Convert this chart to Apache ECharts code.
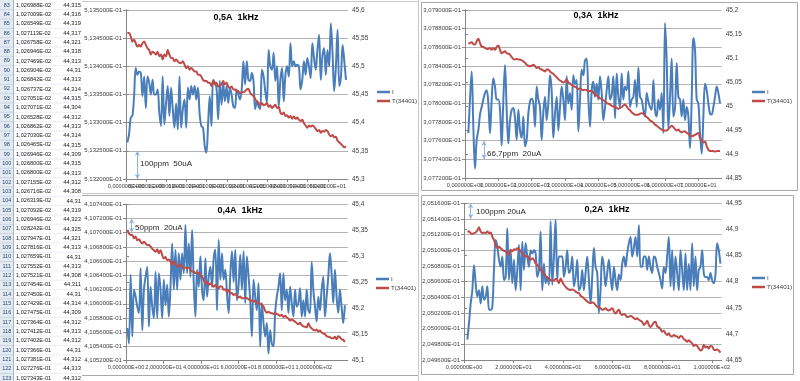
<!DOCTYPE html>
<html><head><meta charset="utf-8">
<script src="https://cdn.jsdelivr.net/npm/echarts@6/dist/echarts.min.js"></script>
<style>html,body{margin:0;padding:0;background:#fff}#c{width:800px;height:381px}</style>
</head><body><div id="c"></div>
<script>
// ---------- spreadsheet column ----------
const rowNums = [83,84,85,86,87,88,89,90,91,92,93,94,95,96,97,98,99,100,101,102,103,104,105,106,107,108,109,110,111,112,113,114,115,116,117,118,119,120,121,122,123];
const colA = ['1,026988E-02','1,027009E-02','1,026549E-02','1,027113E-02','1,026758E-02','1,026946E-02','1,027469E-02','1,026904E-02','1,026842E-02','1,026737E-02','1,027051E-02','1,027071E-02','1,026528E-02','1,026862E-02','1,027030E-02','1,026465E-02','1,026946E-02','1,026800E-02','1,026800E-02','1,027155E-02','1,026716E-02','1,026319E-02','1,027092E-02','1,026946E-02','1,028242E-01','1,027947E-01','1,027816E-01','1,027659E-01','1,027552E-01','1,027521E-01','1,027454E-01','1,027450E-01','1,027429E-01','1,027475E-01','1,027364E-01','1,027412E-01','1,027402E-01','1,027366E-01','1,027381E-01','1,027276E-01','1,027343E-01'];
const colB = ['44,315','44,316','44,319','44,317','44,321','44,318','44,313','44,31','44,313','44,314','44,315','44,304','44,312','44,313','44,314','44,315','44,309','44,315','44,313','44,312','44,308','44,31','44,319','44,323','44,325','44,321','44,313','44,31','44,313','44,308','44,311','44,31','44,314','44,309','44,312','44,313','44,312','44,31','44,312','44,313','44,312'];

// ---------- chart titles / legend / notes ----------
const titles = ['0,5A  1kHz','0,3A  1kHz','0,4A  1kHz','0,2A  1kHz'];
const notes = ['100ppm  50uA','66,7ppm  20uA','50ppm  20uA','100ppm 20uA'];
const seriesNames = ['I','T(34401)'];

// ---------- chart 1 : 0,5A ----------
const c1Start = 0.4, c1Step = 0.5;
const c1I = [0.513265,0.513279,0.513309,0.513312,0.513347,0.513397,0.513385,0.513391,0.513388,0.513347,0.513382,0.513326,0.513382,0.513371,0.513350,0.513376,0.513350,0.513350,0.513359,0.513318,0.513294,0.513382,0.513297,0.513335,0.513365,0.513312,0.513362,0.513324,0.513291,0.513334,0.513288,0.513382,0.513291,0.513324,0.513341,0.513291,0.513362,0.513341,0.513365,0.513350,0.513365,0.513341,0.513362,0.513315,0.513294,0.513291,0.513259,0.513247,0.513297,0.513347,0.513294,0.513376,0.513371,0.513362,0.513306,0.513374,0.513332,0.513371,0.513338,0.513365,0.513335,0.513362,0.513350,0.513329,0.513326,0.513359,0.513350,0.513341,0.513359,0.513409,0.513368,0.513409,0.513376,0.513374,0.513388,0.513374,0.513324,0.513338,0.513329,0.513324,0.513394,0.513382,0.513356,0.513335,0.513429,0.513400,0.513394,0.513424,0.513374,0.513400,0.513329,0.513376,0.513397,0.513338,0.513385,0.513400,0.513382,0.513441,0.513400,0.513409,0.513400,0.513403,0.513400,0.513359,0.513376,0.513409,0.513385,0.513415,0.513400,0.513379,0.513441,0.513415,0.513394,0.513429,0.513456,0.513376,0.513418,0.513432,0.513385,0.513429,0.513400,0.513476,0.513424,0.513356,0.513400,0.513465,0.513365,0.513382,0.513438,0.513409,0.513376];
const c1T = [45.559,45.559,45.553,45.544,45.547,45.541,45.535,45.538,45.535,45.541,45.544,45.538,45.532,45.529,45.521,45.526,45.524,45.521,45.526,45.518,45.521,45.512,45.521,45.518,45.529,45.521,45.515,45.515,45.509,45.512,45.509,45.506,45.506,45.509,45.503,45.497,45.500,45.494,45.497,45.494,45.491,45.491,45.485,45.485,45.482,45.476,45.474,45.474,45.471,45.471,45.465,45.474,45.468,45.471,45.464,45.466,45.468,45.474,45.468,45.471,45.464,45.462,45.464,45.459,45.459,45.456,45.456,45.452,45.454,45.454,45.456,45.459,45.460,45.453,45.450,45.447,45.442,45.438,45.435,45.431,45.435,45.431,45.432,45.435,45.428,45.431,45.426,45.429,45.432,45.426,45.428,45.418,45.415,45.418,45.412,45.413,45.409,45.412,45.407,45.411,45.407,45.409,45.405,45.403,45.405,45.399,45.395,45.391,45.395,45.393,45.395,45.393,45.389,45.385,45.387,45.382,45.385,45.384,45.387,45.385,45.379,45.376,45.378,45.374,45.375,45.368,45.365,45.362,45.359,45.356,45.358];

// ---------- chart 2 : 0,3A ----------
const c2Start = 1.0, c2Step = 0.5;
const c2I = [0.307768,0.307804,0.307834,0.307775,0.307730,0.307761,0.307771,0.307788,0.307796,0.307804,0.307811,0.307814,0.307800,0.307768,0.307804,0.307827,0.307818,0.307804,0.307804,0.307793,0.307755,0.307804,0.307841,0.307793,0.307757,0.307782,0.307793,0.307795,0.307784,0.307761,0.307793,0.307771,0.307763,0.307786,0.307754,0.307761,0.307789,0.307802,0.307805,0.307800,0.307775,0.307818,0.307804,0.307796,0.307761,0.307791,0.307807,0.307782,0.307800,0.307830,0.307813,0.307763,0.307789,0.307807,0.307771,0.307796,0.307818,0.307804,0.307782,0.307829,0.307800,0.307811,0.307793,0.307830,0.307821,0.307825,0.307770,0.307804,0.307836,0.307830,0.307846,0.307848,0.307805,0.307775,0.307814,0.307823,0.307807,0.307821,0.307804,0.307829,0.307811,0.307782,0.307796,0.307814,0.307829,0.307804,0.307809,0.307829,0.307784,0.307832,0.307807,0.307796,0.307832,0.307804,0.307818,0.307814,0.307834,0.307796,0.307804,0.307807,0.307825,0.307796,0.307838,0.307807,0.307804,0.307793,0.307786,0.307811,0.307802,0.307796,0.307793,0.307825,0.307793,0.307786,0.307804,0.307793,0.307811,0.307768,0.307886,0.307846,0.307773,0.307807,0.307848,0.307786,0.307795,0.307843,0.307807,0.307804,0.307786,0.307804,0.307782,0.307796,0.307786,0.307752,0.307804,0.307870,0.307857,0.307804,0.307800,0.307768,0.307746,0.307786,0.307821,0.307814,0.307800,0.307789,0.307788,0.307796,0.307807,0.307818,0.307811,0.307800];
const c2T = [45.130,45.131,45.133,45.129,45.128,45.135,45.140,45.131,45.124,45.123,45.121,45.119,45.119,45.121,45.117,45.121,45.117,45.123,45.126,45.117,45.110,45.112,45.114,45.110,45.109,45.107,45.102,45.098,45.097,45.098,45.097,45.097,45.095,45.093,45.090,45.086,45.084,45.083,45.084,45.086,45.083,45.079,45.081,45.077,45.076,45.074,45.072,45.076,45.076,45.072,45.069,45.067,45.063,45.060,45.056,45.053,45.051,45.049,45.051,45.055,45.049,45.047,45.044,45.042,45.040,45.038,45.035,45.037,45.034,45.033,45.034,45.033,45.031,45.031,45.031,45.027,45.025,45.022,45.019,45.016,45.015,45.012,45.010,45.006,45.005,45.003,45.001,44.999,44.998,44.996,44.994,44.996,44.998,45.001,45.003,44.999,44.994,44.991,44.987,44.984,44.982,44.982,44.982,44.984,44.985,44.984,44.980,44.977,44.974,44.970,44.968,44.965,44.961,44.959,44.956,44.953,44.951,44.949,44.949,44.949,44.952,44.956,44.959,44.956,44.952,44.949,44.951,44.947,44.945,44.947,44.947,44.944,44.942,44.938,44.937,44.938,44.940,44.942,44.944,44.933,44.928,44.924,44.926,44.916,44.909,44.906,44.906,44.906,44.905,44.906,44.906,44.906];

// ---------- chart 3 : 0,4A ----------
const c3Start = 0.7, c3Step = 0.884;
const c3I = [0.410566,0.410544,0.410641,0.410554,0.410620,0.410610,0.410596,0.410587,0.410650,0.410563,0.410620,0.410638,0.410652,0.410568,0.410624,0.410596,0.410580,0.410645,0.410580,0.410643,0.410620,0.410580,0.410634,0.410598,0.410627,0.410582,0.410624,0.410685,0.410620,0.410676,0.410620,0.410671,0.410634,0.410671,0.410643,0.410711,0.410643,0.410685,0.410638,0.410704,0.410629,0.410582,0.410648,0.410624,0.410667,0.410620,0.410605,0.410664,0.410610,0.410638,0.410652,0.410624,0.410664,0.410676,0.410591,0.410690,0.410634,0.410671,0.410634,0.410648,0.410615,0.410587,0.410641,0.410674,0.410631,0.410676,0.410605,0.410627,0.410669,0.410620,0.410674,0.410601,0.410667,0.410638,0.410605,0.410554,0.410634,0.410610,0.410591,0.410629,0.410540,0.410601,0.410573,0.410554,0.410573,0.410530,0.410563,0.410544,0.410540,0.410587,0.410610,0.410624,0.410643,0.410591,0.410643,0.410605,0.410620,0.410587,0.410624,0.410601,0.410582,0.410620,0.410596,0.410601,0.410622,0.410582,0.410605,0.410582,0.410620,0.410591,0.410587,0.410659,0.410620,0.410596,0.410575,0.410610,0.410591,0.410620,0.410638,0.410582,0.410610,0.410638,0.410671,0.410643,0.410601,0.410648,0.410610,0.410587,0.410620,0.410596,0.410573,0.410598];
const c3T = [45.351,45.344,45.341,45.341,45.335,45.338,45.331,45.333,45.328,45.325,45.328,45.325,45.322,45.322,45.319,45.315,45.312,45.309,45.314,45.306,45.312,45.303,45.296,45.299,45.293,45.294,45.290,45.284,45.290,45.287,45.280,45.282,45.284,45.279,45.277,45.279,45.277,45.279,45.274,45.271,45.271,45.268,45.269,45.268,45.264,45.261,45.255,45.248,45.252,45.245,45.248,45.245,45.242,45.245,45.242,45.239,45.243,45.242,45.236,45.237,45.232,45.236,45.229,45.230,45.226,45.228,45.224,45.221,45.223,45.220,45.220,45.221,45.220,45.218,45.216,45.215,45.213,45.216,45.211,45.210,45.209,45.207,45.204,45.196,45.192,45.194,45.192,45.191,45.190,45.191,45.190,45.188,45.186,45.188,45.184,45.186,45.183,45.181,45.177,45.179,45.177,45.175,45.172,45.170,45.173,45.168,45.166,45.165,45.164,45.172,45.165,45.162,45.159,45.158,45.160,45.156,45.158,45.154,45.152,45.151,45.147,45.146,45.145,45.143,45.143,45.146,45.141,45.147,45.145,45.141,45.140,45.136];

// ---------- chart 4 : 0,2A ----------
const c4Start = 1.35, c4Step = 0.672;
const c4I = [0.204986,0.205007,0.205032,0.205049,0.205081,0.205058,0.205041,0.205049,0.205032,0.205054,0.205037,0.205041,0.205054,0.205024,0.205024,0.205028,0.205075,0.205113,0.205105,0.205088,0.205079,0.205092,0.205062,0.205066,0.205128,0.205062,0.205100,0.205058,0.205088,0.205049,0.205075,0.205107,0.205049,0.205111,0.205075,0.205109,0.205092,0.205079,0.205100,0.205096,0.205100,0.205096,0.205066,0.205075,0.205124,0.205049,0.205083,0.205058,0.205066,0.205056,0.205137,0.205056,0.205092,0.205139,0.205062,0.205092,0.205092,0.205092,0.205066,0.205079,0.205100,0.205071,0.205075,0.205092,0.205054,0.205066,0.205088,0.205049,0.205054,0.205075,0.205049,0.205071,0.205092,0.205062,0.205032,0.205066,0.205103,0.205079,0.205071,0.205020,0.205049,0.205092,0.205079,0.205054,0.205071,0.205088,0.205066,0.205049,0.205079,0.205062,0.205049,0.205069,0.205062,0.205083,0.205092,0.205079,0.205096,0.205109,0.205117,0.205092,0.205103,0.205117,0.205092,0.205132,0.205079,0.205079,0.205092,0.205092,0.205075,0.205092,0.205079,0.205071,0.205092,0.205090,0.205079,0.205071,0.205062,0.205051,0.205079,0.205071,0.205092,0.205117,0.205054,0.205100,0.205049,0.205092,0.205071,0.205049,0.205100,0.205075,0.205049,0.205096,0.205049,0.205083,0.205049,0.205109,0.205054,0.205092,0.205049,0.205075,0.205079,0.205100,0.205071,0.205066,0.205066,0.205062,0.205071,0.205062,0.205058,0.205069,0.205109,0.205100,0.205083];
const c4T = [44.896,44.896,44.893,44.891,44.893,44.894,44.898,44.904,44.896,44.893,44.894,44.893,44.896,44.893,44.894,44.886,44.880,44.870,44.864,44.867,44.864,44.861,44.859,44.858,44.854,44.851,44.861,44.858,44.862,44.861,44.864,44.862,44.858,44.854,44.851,44.848,44.849,44.845,44.842,44.845,44.842,44.835,44.832,44.829,44.822,44.819,44.816,44.811,44.808,44.806,44.803,44.802,44.802,44.805,44.803,44.797,44.806,44.800,44.794,44.790,44.787,44.785,44.784,44.785,44.784,44.781,44.779,44.778,44.773,44.771,44.768,44.765,44.762,44.760,44.759,44.760,44.759,44.755,44.752,44.751,44.749,44.746,44.747,44.749,44.746,44.745,44.747,44.749,44.743,44.739,44.743,44.746,44.739,44.736,44.738,44.736,44.732,44.733,44.734,44.733,44.730,44.728,44.730,44.727,44.725,44.723,44.717,44.720,44.725,44.717,44.713,44.717,44.722,44.723,44.714,44.713,44.709,44.704,44.706,44.701,44.698,44.701,44.696,44.695,44.698,44.696,44.695,44.692,44.696,44.695,44.690,44.688,44.685,44.688,44.685,44.682,44.677,44.679,44.677,44.672,44.668,44.670,44.679,44.674,44.676,44.672,44.677,44.676,44.670,44.669,44.670,44.668,44.664];

// axis ranges [min, max, interval]
const xRanges = [[0,66,6],[0,77,10],[0,118,20],[0,104,20]];
const iRanges = [[0.5132,0.5135,0.00005],[0.30772,0.3079,0.00002],[0.41052,0.41074,0.00002],[0.20496,0.20516,0.00002]];
const tRanges = [[45.3,45.6,0.05],[44.85,45.2,0.05],[45.1,45.4,0.05],[44.65,44.95,0.05]];
// ppm span arrows [x, from, to]
const spans = [[3.4,0.5132,0.51325],[5.7,0.30774,0.30776],[3.0,0.4107,0.41072],[2.7,0.20514,0.20516]];

const FONT = '"Liberation Sans", Arial, sans-serif';
const BLUE = '#4A7EBB', RED = '#BE4B48', AX = '#868686', GRIDC = '#b4b4b4', LAB = '#404040';

function sci(v){
  const s = Number(v).toExponential(6);
  const p = s.split('e'); const n = parseInt(p[1],10);
  return p[0].replace('.',',') + 'E' + (n<0?'-':'+') + String(Math.abs(n)).padStart(2,'0');
}
function dec(v){ return String(parseFloat(Number(v).toFixed(3))).replace('.',','); }

const charts = [
  {I:c1I,T:c1T,s:c1Start,d:c1Step},
  {I:c2I,T:c2T,s:c2Start,d:c2Step},
  {I:c3I,T:c3T,s:c3Start,d:c3Step},
  {I:c4I,T:c4T,s:c4Start,d:c4Step}
];
const grids = [
  {left:126, top:10, width:222, height:169},
  {left:465, top:10, width:256.7, height:168},
  {left:126, top:204.3, width:221.7, height:156.4},
  {left:464, top:203.3, width:257.7, height:156.7}
];
const legendPos = [[377,89],[752,89],[376,276],[752,275]];
const titlePos = [[236,17.5],[596,16],[240,211],[607,209.5]];
const notePos = [[140,164],[487,153.5],[135,227.5],[476,211.5]];

const xAxis = [], yAxis = [], series = [], legend = [];
charts.forEach((c, gi) => {
  const xr = xRanges[gi], ir = iRanges[gi], tr = tRanges[gi];
  const lab = {showMinLabel:true, showMaxLabel:false, hideOverlap:false, fontSize:5.6, color:LAB, margin:4, fontFamily:FONT};
  // main x axis: every label except the one at min
  xAxis.push({type:'value', gridIndex:gi, position:'bottom', min:xr[0], max:xr[1], interval:xr[2],
    axisLine:{show:true, onZero:false, lineStyle:{color:AX}},
    axisTick:{show:true, length:3, lineStyle:{color:AX}},
    splitLine:{show:false},
    axisLabel:Object.assign({}, lab, {formatter:v => (v===xr[0] ? '' : sci(v))})});
  // companion x axis carrying only the min label (keeps ECharts from dropping its neighbour)
  xAxis.push({type:'value', gridIndex:gi, position:'bottom', offset:0, min:xr[0], max:xr[1], interval:xr[2],
    axisLine:{show:false, onZero:false}, axisTick:{show:false}, splitLine:{show:false},
    axisLabel:Object.assign({}, lab, {formatter:v => (v===xr[0] ? sci(v) : '')})});
  yAxis.push({type:'value', gridIndex:gi, position:'left', min:ir[0], max:ir[1], interval:ir[2],
    axisLine:{show:true, lineStyle:{color:AX}},
    axisTick:{show:true, length:3, lineStyle:{color:AX}},
    splitLine:{show:true, lineStyle:{color:GRIDC, width:1}},
    axisLabel:{formatter:sci, showMinLabel:true, showMaxLabel:true, fontSize:6, color:LAB, margin:4, fontFamily:FONT}});
  yAxis.push({type:'value', gridIndex:gi, position:'right', min:tr[0], max:tr[1], interval:tr[2],
    axisLine:{show:true, lineStyle:{color:AX}},
    axisTick:{show:true, length:3, lineStyle:{color:AX}},
    splitLine:{show:false},
    axisLabel:{formatter:dec, showMinLabel:true, showMaxLabel:true, fontSize:6.5, color:LAB, margin:4, fontFamily:FONT}});
  const sp = spans[gi];
  series.push({type:'line', name:seriesNames[0], xAxisIndex:gi*2, yAxisIndex:gi*2, symbol:'none', showSymbol:false,
    smooth:0.35, animation:false, lineStyle:{color:BLUE, width:2}, itemStyle:{color:BLUE},
    data:c.I.map((v,k)=>[c.s + k*c.d, v]),
    markLine:{silent:true, animation:false, symbol:['arrow','arrow'], symbolSize:[4,5],
      lineStyle:{color:'#8DB3E2', width:1, type:'solid'}, label:{show:false},
      data:[[{coord:[sp[0], sp[1]]},{coord:[sp[0], sp[2]]}]]}});
  series.push({type:'line', name:seriesNames[1], xAxisIndex:gi*2, yAxisIndex:gi*2+1, symbol:'none', showSymbol:false,
    smooth:0.35, animation:false, lineStyle:{color:RED, width:2}, itemStyle:{color:RED},
    data:c.T.map((v,k)=>[c.s + k*c.d, v])});
  legend.push({left:legendPos[gi][0], top:legendPos[gi][1], orient:'vertical', padding:0,
    itemWidth:13, itemHeight:2.5, itemGap:3, icon:'rect', selectedMode:false,
    textStyle:{fontSize:6.2, color:LAB, fontFamily:FONT, padding:[0,0,0,-3]}, data:seriesNames});
});

// ---------- graphic: spreadsheet, frames, titles, notes ----------
const g = [];
const RH = 9.33, R0 = 0.33;
g.push({type:'rect', shape:{x:0,y:0,width:13,height:381}, style:{fill:'#e4eaf2'}, silent:true});
g.push({type:'line', shape:{x1:13.5,y1:0,x2:13.5,y2:381}, style:{stroke:'#9eb6ce',lineWidth:1}, silent:true});
rowNums.forEach((r,i) => {
  const y0 = R0 + i*RH;
  g.push({type:'line', shape:{x1:0,y1:y0+RH,x2:13,y2:y0+RH}, style:{stroke:'#b8c8da',lineWidth:0.6}, silent:true});
  g.push({type:'line', shape:{x1:14,y1:y0+RH,x2:82,y2:y0+RH}, style:{stroke:'#dde3ec',lineWidth:0.6}, silent:true});
  g.push({type:'text', x:6.8, y:y0+RH/2, silent:true, style:{text:String(r), font:'5.5px '+FONT, fill:'#2f4a6d', align:'center', verticalAlign:'middle', textAlign:'center', textVerticalAlign:'middle'}});
  g.push({type:'text', x:16, y:y0+RH/2, silent:true, style:{text:colA[i], font:'5.6px '+FONT, fill:'#1a1a1a', align:'left', verticalAlign:'middle', textAlign:'left', textVerticalAlign:'middle'}});
  g.push({type:'text', x:81, y:y0+RH/2, silent:true, style:{text:colB[i], font:'5.8px '+FONT, fill:'#1a1a1a', align:'right', verticalAlign:'middle', textAlign:'right', textVerticalAlign:'middle'}});
});
// chart frames
const FR = '#a9a9a9';
g.push({type:'rect', shape:{x:421.5,y:2.5,width:376,height:188}, style:{fill:'none',stroke:FR,lineWidth:1}, silent:true});
g.push({type:'rect', shape:{x:421.5,y:195.5,width:372,height:179}, style:{fill:'none',stroke:FR,lineWidth:1}, silent:true});
g.push({type:'line', shape:{x1:82,y1:1.5,x2:418,y2:1.5}, style:{stroke:'#c8c8c8',lineWidth:1}, silent:true});
g.push({type:'line', shape:{x1:82,y1:193.5,x2:418,y2:193.5}, style:{stroke:'#c8c8c8',lineWidth:1}, silent:true});
g.push({type:'line', shape:{x1:82,y1:195.5,x2:418,y2:195.5}, style:{stroke:FR,lineWidth:1}, silent:true});
g.push({type:'line', shape:{x1:82,y1:375.5,x2:418,y2:375.5}, style:{stroke:FR,lineWidth:1}, silent:true});
g.push({type:'line', shape:{x1:418.5,y1:0,x2:418.5,y2:381}, style:{stroke:'#c8c8c8',lineWidth:1}, silent:true});
titles.forEach((t,i) => {
  g.push({type:'text', x:titlePos[i][0], y:titlePos[i][1], silent:true, style:{text:t, font:'bold 9px '+FONT, fill:'#000', align:'center', verticalAlign:'middle', textAlign:'center', textVerticalAlign:'middle'}});
});
notes.forEach((t,i) => {
  g.push({type:'text', x:notePos[i][0], y:notePos[i][1], silent:true, style:{text:t, font:'8px '+FONT, fill:'#262626', align:'left', verticalAlign:'middle', textAlign:'left', textVerticalAlign:'middle'}});
});

const chart = echarts.init(document.getElementById('c'), null, {renderer:'canvas'});
chart.setOption({
  animation:false,
  backgroundColor:'#ffffff',
  textStyle:{fontFamily:FONT},
  grid: grids,
  xAxis, yAxis, series, legend,
  graphic: g
});
</script></body></html>
